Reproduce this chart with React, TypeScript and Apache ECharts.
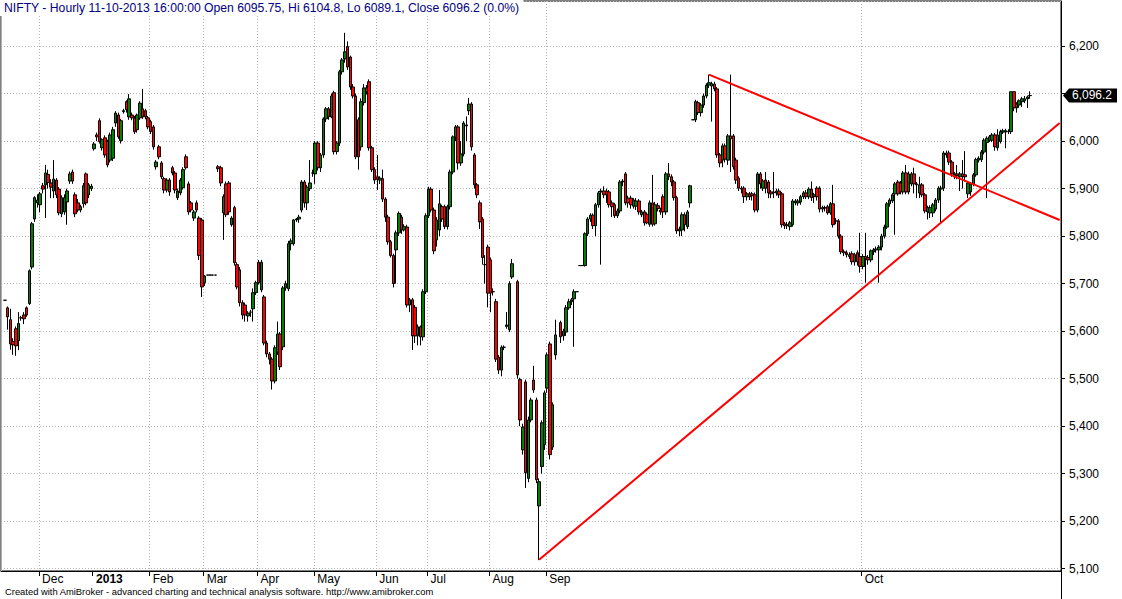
import React, { useEffect, useRef } from "react";
import * as echarts from "echarts";

type Bar = [number, number, number, number] | null; // [open, close, low, high]

const TITLE =
  "NIFTY - Hourly 11-10-2013 16:00:00 Open 6095.75, Hi 6104.8, Lo 6089.1, Close 6096.2 (0.0%)";
const FOOTER =
  "Created with AmiBroker - advanced charting and technical analysis software. http://www.amibroker.com";

const monthTickIndex = [14, 34, 55, 75, 95, 116, 139, 158, 181, 202, 319];
const monthTickLabel = ["Dec", "2013", "Feb", "Mar", "Apr", "May", "Jun", "Jul", "Aug", "Sep", "Oct"];
const yearIndex = 34;

const yMin = 5095;
const yMax = 6295;
const lastClose = 6096.2;

const supportLine: [number, number][] = [
  [199, 5118.5],
  [392, 6038],
];
const resistanceLine: [number, number][] = [
  [262, 6140],
  [392, 5834],
];

const ohlc: Bar[] = [
  // Nov 2012
  null,
  [5665, 5665, 5665, 5665],
  [5649, 5630, 5603, 5652],
  [5624, 5573, 5561, 5647],
  [5578, 5571, 5550, 5585],
  [5605, 5569, 5548, 5610],
  [5580, 5616, 5560, 5640],
  [5628, 5628, 5622, 5632],
  [5634, 5626, 5615, 5640],
  [5649, 5634, 5630, 5652],
  [5658, 5727, 5655, 5730],
  [5735, 5826, 5730, 5830],
  [5836, 5881, 5830, 5884],
  [5870, 5876, 5860, 5888],
  // Dec
  [5866, 5889, 5850, 5893],
  [5906, 5899, 5890, 5912],
  [5908, 5933, 5838, 5950],
  [5930, 5913, 5900, 5940],
  [5912, 5903, 5880, 5920],
  [5895, 5920, 5880, 5960],
  [5918, 5887, 5880, 5922],
  [5899, 5849, 5844, 5903],
  [5847, 5881, 5840, 5886],
  [5851, 5881, 5845, 5888],
  [5872, 5895, 5824, 5900],
  [5916, 5931, 5910, 5936],
  [5935, 5916, 5910, 5940],
  [5887, 5847, 5840, 5892],
  [5870, 5855, 5850, 5878],
  [5855, 5862, 5850, 5866],
  [5868, 5906, 5860, 5912],
  [5931, 5870, 5865, 5934],
  [5887, 5908, 5880, 5912],
  [5900, 5905, 5895, 5910],
  // Jan 2013
  [5984, 5994, 5980, 5998],
  [6013, 6009, 6000, 6018],
  [6043, 5999, 5995, 6048],
  [5986, 6003, 5980, 6006],
  [6007, 5971, 5965, 6012],
  [5999, 5950, 5945, 6003],
  [5960, 6013, 5955, 6018],
  [5964, 6024, 5958, 6030],
  [6038, 6059, 6030, 6063],
  [6055, 6009, 6005, 6060],
  [6001, 6043, 5995, 6047],
  [6062, 6064, 6058, 6068],
  [6083, 6066, 6060, 6086],
  [6051, 6089, 6045, 6099],
  [6055, 6049, 6044, 6060],
  [6049, 6020, 6015, 6053],
  [6024, 6055, 6018, 6058],
  [6049, 6080, 6045, 6084],
  [6068, 6051, 6047, 6110],
  [6064, 6051, 6046, 6068],
  [6049, 6030, 6025, 6053],
  // Feb
  [6041, 6020, 6015, 6045],
  [6030, 5988, 5982, 6034],
  [5946, 5956, 5940, 5960],
  [5988, 5967, 5962, 5992],
  [5954, 5925, 5920, 5958],
  [5921, 5897, 5890, 5925],
  [5897, 5918, 5892, 5922],
  [5918, 5893, 5885, 5922],
  [5944, 5933, 5928, 5948],
  [5933, 5897, 5890, 5937],
  [5881, 5895, 5876, 5900],
  [5891, 5918, 5886, 5922],
  [5902, 5940, 5898, 5945],
  [5967, 5944, 5940, 5972],
  [5910, 5851, 5845, 5915],
  [5870, 5855, 5850, 5874],
  [5838, 5851, 5832, 5855],
  [5870, 5855, 5850, 5875],
  [5838, 5759, 5750, 5842],
  [5834, 5693, 5672, 5838],
  // Mar
  [5702, 5716, 5695, 5718],
  [5718, 5718, 5718, 5718],
  [5718, 5718, 5718, 5718],
  [5718, 5718, 5718, 5718],
  [5718, 5718, 5718, 5718],
  [5946, 5942, 5935, 5950],
  [5944, 5912, 5905, 5948],
  [5849, 5883, 5792, 5888],
  [5910, 5845, 5840, 5915],
  [5912, 5851, 5845, 5916],
  [5824, 5838, 5820, 5842],
  [5860, 5744, 5738, 5864],
  [5740, 5693, 5688, 5745],
  [5729, 5660, 5652, 5735],
  [5660, 5634, 5625, 5665],
  [5655, 5634, 5620, 5660],
  [5632, 5638, 5620, 5642],
  [5640, 5640, 5630, 5645],
  [5647, 5681, 5620, 5690],
  [5681, 5702, 5676, 5706],
  // Apr
  [5745, 5702, 5698, 5750],
  [5687, 5745, 5682, 5750],
  [5672, 5575, 5570, 5676],
  [5575, 5552, 5545, 5580],
  [5552, 5541, 5530, 5556],
  [5541, 5495, 5477, 5545],
  [5495, 5565, 5490, 5570],
  [5556, 5594, 5550, 5620],
  [5594, 5525, 5518, 5598],
  [5567, 5691, 5560, 5695],
  [5691, 5700, 5685, 5706],
  [5689, 5784, 5684, 5790],
  [5784, 5790, 5770, 5795],
  [5784, 5834, 5780, 5836],
  [5834, 5836, 5830, 5838],
  [5836, 5840, 5828, 5845],
  [5855, 5914, 5850, 5918],
  [5914, 5870, 5860, 5918],
  [5870, 5903, 5855, 5908],
  [5900, 5912, 5895, 5960],
  [5933, 5933, 5925, 5940],
  // May
  [5931, 5996, 5910, 6000],
  [5996, 5944, 5938, 6000],
  [5944, 5971, 5935, 5975],
  [5971, 6047, 5965, 6050],
  [6047, 6068, 6040, 6072],
  [6068, 6051, 6045, 6072],
  [6051, 6095, 6048, 6100],
  [6102, 5978, 5972, 6106],
  [5978, 5996, 5972, 6000],
  [5996, 6146, 5990, 6150],
  [6146, 6171, 6140, 6175],
  [6173, 6188, 6165, 6228],
  [6199, 6156, 6150, 6210],
  [6177, 6114, 6108, 6180],
  [6114, 6095, 6090, 6120],
  [6095, 5967, 5962, 6100],
  [6045, 5967, 5940, 6050],
  [5988, 6083, 5980, 6090],
  [6081, 6112, 6075, 6120],
  [6112, 6104, 6098, 6118],
  [6125, 5986, 5980, 6130],
  [5986, 5940, 5935, 5990],
  [5940, 5918, 5910, 5945],
  // Jun
  [5925, 5919, 5897, 5971],
  [5918, 5922, 5910, 5926],
  [5921, 5878, 5872, 5940],
  [5878, 5840, 5830, 5882],
  [5840, 5788, 5782, 5845],
  [5788, 5759, 5755, 5792],
  [5759, 5700, 5692, 5763],
  [5771, 5807, 5700, 5812],
  [5807, 5848, 5800, 5852],
  [5840, 5813, 5805, 5845],
  [5813, 5820, 5810, 5825],
  [5819, 5655, 5650, 5824],
  [5655, 5666, 5640, 5670],
  [5666, 5590, 5560, 5670],
  [5650, 5590, 5575, 5655],
  [5590, 5609, 5570, 5614],
  [5609, 5588, 5570, 5612],
  [5588, 5683, 5580, 5688],
  [5683, 5843, 5678, 5848],
  // Jul
  [5843, 5899, 5838, 5904],
  [5899, 5855, 5850, 5903],
  [5855, 5769, 5762, 5860],
  [5792, 5834, 5778, 5840],
  [5813, 5868, 5800, 5897],
  [5862, 5836, 5830, 5866],
  [5862, 5820, 5815, 5866],
  [5820, 5862, 5814, 5866],
  [5862, 5935, 5856, 5940],
  [5935, 6009, 5930, 6012],
  [6009, 6030, 6000, 6034],
  [6030, 5954, 5940, 6034],
  [5954, 5973, 5948, 6000],
  [5973, 6038, 5968, 6042],
  [6032, 6034, 6000, 6052],
  [6064, 6078, 6055, 6091],
  [6078, 5988, 5980, 6082],
  [5971, 5908, 5900, 5975],
  [5908, 5887, 5880, 5912],
  [5870, 5830, 5815, 5875],
  [5836, 5755, 5740, 5840],
  [5740, 5740, 5700, 5760],
  [5777, 5680, 5650, 5782],
  // Aug
  [5750, 5680, 5640, 5755],
  [5683, 5683, 5675, 5690],
  [5662, 5541, 5535, 5668],
  [5545, 5518, 5510, 5550],
  [5518, 5566, 5505, 5570],
  [5566, 5566, 5560, 5570],
  [5610, 5613, 5605, 5640],
  [5603, 5700, 5598, 5705],
  [5714, 5742, 5710, 5752],
  null,
  [5704, 5508, 5500, 5708],
  [5498, 5413, 5400, 5502],
  [5350, 5398, 5340, 5405],
  [5493, 5302, 5270, 5498],
  [5290, 5413, 5282, 5420],
  [5413, 5455, 5408, 5460],
  [5497, 5476, 5470, 5527],
  [5455, 5287, 5280, 5460],
  [5232, 5283, 5118, 5290],
  [5315, 5407, 5300, 5412],
  [5361, 5470, 5350, 5475],
  // Sep (hourly)
  [5480, 5550, 5470, 5555],
  [5573, 5340, 5330, 5578],
  [5356, 5445, 5350, 5450],
  [5550, 5592, 5540, 5624],
  null,
  [5618, 5588, 5575, 5622],
  [5590, 5600, 5580, 5605],
  [5598, 5649, 5590, 5655],
  [5649, 5662, 5645, 5668],
  [5662, 5666, 5655, 5670],
  [5668, 5683, 5567, 5688],
  [5683, 5683, 5683, 5683],
  [5738, 5738, 5738, 5738],
  [5738, 5738, 5738, 5738],
  [5738, 5805, 5736, 5808],
  [5805, 5836, 5800, 5840],
  [5836, 5844, 5830, 5848],
  [5844, 5822, 5815, 5848],
  [5822, 5866, 5800, 5870],
  [5866, 5891, 5860, 5895],
  [5893, 5895, 5740, 5900],
  [5895, 5887, 5880, 5905],
  [5895, 5887, 5870, 5900],
  [5893, 5866, 5860, 5897],
  [5870, 5862, 5840, 5875],
  [5866, 5843, 5838, 5870],
  [5843, 5853, 5838, 5858],
  [5853, 5914, 5848, 5918],
  [5914, 5916, 5905, 5920],
  [5931, 5870, 5865, 5935],
  [5880, 5870, 5860, 5885],
  [5880, 5866, 5858, 5885],
  [5863, 5876, 5858, 5880],
  [5863, 5874, 5855, 5880],
  [5874, 5851, 5845, 5878],
  [5845, 5851, 5840, 5855],
  [5851, 5828, 5822, 5855],
  [5846, 5828, 5825, 5850],
  [5825, 5870, 5820, 5875],
  [5870, 5825, 5820, 5929],
  [5826, 5866, 5822, 5872],
  [5864, 5858, 5852, 5870],
  [5855, 5851, 5845, 5860],
  [5883, 5851, 5838, 5888],
  [5851, 5931, 5845, 5935],
  [5931, 5925, 5918, 5954],
  [5925, 5914, 5905, 5930],
  [5914, 5881, 5875, 5918],
  [5881, 5811, 5805, 5885],
  [5811, 5815, 5800, 5820],
  [5813, 5845, 5800, 5850],
  [5845, 5824, 5810, 5850],
  [5820, 5851, 5815, 5855],
  [5870, 5906, 5860, 5908],
  [6045, 6045, 6045, 6045],
  [6045, 6083, 6040, 6087],
  [6081, 6060, 6055, 6085],
  [6060, 6076, 6052, 6080],
  [6076, 6095, 6070, 6100],
  [6095, 6118, 6090, 6122],
  [6118, 6123, 6112, 6140],
  [6116, 6121, 6041, 6125],
  [6120, 6110, 6105, 6125],
  [6110, 5971, 5965, 6114],
  [5971, 5954, 5945, 5975],
  [5960, 5990, 5945, 5995],
  [5990, 5962, 5955, 5995],
  [5960, 6011, 5950, 6015],
  [6011, 6005, 5935, 6140],
  [6011, 5946, 5940, 6015],
  [5960, 5918, 5910, 5965],
  [5922, 5901, 5895, 5926],
  [5901, 5899, 5890, 5905],
  [5901, 5883, 5870, 5905],
  [5883, 5889, 5875, 5893],
  [5889, 5883, 5876, 5893],
  [5889, 5885, 5875, 5893],
  [5887, 5855, 5850, 5892],
  [5855, 5931, 5850, 5935],
  [5931, 5910, 5900, 5935],
  [5901, 5916, 5895, 5920],
  [5918, 5901, 5890, 5935],
  [5914, 5891, 5880, 5918],
  [5893, 5889, 5880, 5897],
  [5891, 5893, 5880, 5935],
  [5891, 5895, 5885, 5900],
  [5895, 5887, 5880, 5900],
  [5889, 5824, 5818, 5893],
  [5826, 5822, 5815, 5830],
  [5822, 5824, 5815, 5830],
  [5820, 5828, 5812, 5832],
  [5824, 5874, 5820, 5878],
  [5870, 5874, 5865, 5878],
  [5870, 5874, 5864, 5878],
  [5872, 5883, 5866, 5887],
  [5883, 5891, 5878, 5895],
  [5891, 5883, 5878, 5897],
  [5883, 5899, 5878, 5903],
  [5899, 5881, 5874, 5915],
  [5883, 5887, 5870, 5891],
  [5901, 5883, 5875, 5905],
  [5901, 5857, 5850, 5905],
  [5860, 5857, 5850, 5864],
  [5860, 5859, 5852, 5864],
  [5862, 5849, 5845, 5866],
  [5849, 5868, 5845, 5872],
  [5868, 5824, 5818, 5908],
  [5832, 5832, 5825, 5838],
  [5832, 5800, 5795, 5836],
  [5800, 5767, 5762, 5804],
  [5767, 5765, 5758, 5772],
  [5765, 5761, 5755, 5770],
  [5757, 5761, 5752, 5766],
  [5763, 5746, 5740, 5768],
  [5746, 5761, 5738, 5765],
  [5765, 5746, 5738, 5770],
  [5757, 5736, 5723, 5807],
  // Oct
  [5736, 5757, 5730, 5762],
  [5757, 5752, 5702, 5807],
  [5755, 5750, 5740, 5760],
  [5750, 5769, 5745, 5772],
  [5767, 5771, 5760, 5775],
  [5771, 5773, 5765, 5778],
  [5771, 5777, 5702, 5781],
  [5777, 5800, 5770, 5805],
  [5800, 5819, 5795, 5824],
  [5819, 5868, 5815, 5872],
  [5868, 5876, 5862, 5880],
  [5874, 5887, 5870, 5891],
  [5889, 5910, 5803, 5914],
  [5914, 5889, 5885, 5918],
  [5912, 5893, 5888, 5916],
  [5893, 5933, 5888, 5937],
  [5933, 5893, 5888, 5950],
  [5893, 5931, 5888, 5936],
  [5910, 5931, 5905, 5935],
  [5931, 5910, 5890, 5944],
  [5910, 5908, 5880, 5914],
  [5891, 5908, 5880, 5925],
  [5908, 5887, 5882, 5912],
  [5887, 5853, 5848, 5891],
  [5851, 5860, 5835, 5864],
  [5849, 5860, 5838, 5865],
  [5849, 5866, 5840, 5870],
  [5857, 5876, 5852, 5880],
  [5876, 5901, 5870, 5905],
  [5899, 5901, 5828, 5906],
  [5901, 5975, 5895, 5979],
  [5975, 5971, 5965, 5980],
  [5975, 5956, 5950, 5980],
  [5956, 5931, 5925, 5960],
  [5925, 5931, 5920, 5935],
  [5931, 5927, 5920, 5950],
  [5925, 5931, 5895, 5935],
  [5931, 5925, 5900, 5960],
  [5929, 5925, 5915, 5979],
  [5889, 5912, 5880, 5916],
  [5893, 5910, 5885, 5914],
  [5910, 5929, 5905, 5933],
  [5929, 5961, 5925, 5965],
  [5960, 5964, 5955, 5968],
  [5961, 5977, 5956, 5981],
  [5977, 6002, 5972, 6006],
  [5997, 6006, 5880, 6010],
  [6002, 6009, 5998, 6013],
  [6002, 6013, 5998, 6017],
  [6013, 5988, 5980, 6017],
  [5986, 6013, 5980, 6025],
  [5999, 6020, 5995, 6024],
  [6019, 6022, 6015, 6026],
  [6019, 6022, 5985, 6026],
  [6020, 6021, 6015, 6025],
  [6020, 6104, 6015, 6104],
  [6104, 6070, 6063, 6104],
  [6070, 6078, 6060, 6082],
  [6076, 6085, 6070, 6088],
  [6083, 6089, 6072, 6093],
  [6085, 6089, 6080, 6095],
  [6089, 6093, 6070, 6096],
  [6095.75, 6096.2, 6089.1, 6104.8],
  // empty space on the right
  null, null, null, null, null, null, null, null, null, null, null,
];

const FONT = '"Liberation Sans", Arial, Helvetica, sans-serif';
const GRID = { left: 1, right: 61, top: 1, bottom: 28 };

function fmtPrice(v: number, decimals = 0): string {
  const s = v.toFixed(decimals);
  const [intPart, dec] = s.split(".");
  const withComma = intPart.replace(/\B(?=(\d{3})+(?!\d))/g, ",");
  return dec ? withComma + "." + dec : withComma;
}

export default function App() {
  const ref = useRef<HTMLDivElement>(null);

  useEffect(() => {
    const el = ref.current;
    if (!el) return;
    const chart = echarts.init(el, null, { renderer: "svg" });

    const cats = ohlc.map((_, i) => String(i));
    const data = ohlc.map((b) => (b ? b : ["-", "-", "-", "-"]));
    const monthSet = new Set(monthTickIndex);
    const gridSet = new Set(monthTickIndex.filter((i) => i !== yearIndex));
    const labelOf = (i: number) => {
      const k = monthTickIndex.indexOf(i);
      if (k < 0) return "";
      return i === yearIndex ? `{yr|${monthTickLabel[k]}}` : monthTickLabel[k];
    };

    const gridLine = { color: "#b4b4b4", width: 1, type: [1, 2] as any };

    chart.setOption({
      animation: false,
      backgroundColor: "#ffffff",
      title: [
        {
          text: TITLE,
          left: 0,
          top: 0,
          padding: [2, 4, 2, 4],
          backgroundColor: "#ffffff",
          textStyle: { fontSize: 12.2, fontWeight: "normal", color: "#000080", fontFamily: FONT },
          z: 8,
        },
        {
          text: FOOTER,
          left: 5,
          top: 587,
          padding: 0,
          textStyle: { fontSize: 9.4, fontWeight: "normal", color: "#000000", fontFamily: FONT },
        },
      ],
      grid: { ...GRID, containLabel: false, show: true, borderColor: "#000", borderWidth: 1, backgroundColor: "transparent" },
      xAxis: [
        {
          type: "category",
          data: cats,
          boundaryGap: true,
          axisLine: { show: true, onZero: false, lineStyle: { color: "#000", width: 1 } },
          axisTick: {
            show: true,
            interval: (i: number) => monthSet.has(i),
            length: 5,
            lineStyle: { color: "#000", width: 1 },
          },
          axisLabel: {
            show: true,
            interval: (i: number) => monthSet.has(i),
            formatter: (_v: string, i: number) => labelOf(i),
            align: "left",
            padding: [0, 0, 0, 2],
            margin: 2,
            color: "#000",
            fontSize: 12,
            fontFamily: FONT,
            rich: { yr: { fontWeight: "bold", fontSize: 12, fontFamily: FONT, color: "#000" } },
          },
          splitLine: {
            show: true,
            interval: (i: number) => gridSet.has(i),
            lineStyle: gridLine,
          },
        },
        {
          type: "category",
          data: cats,
          boundaryGap: true,
          position: "bottom",
          axisLine: { show: false },
          axisTick: { show: false },
          axisLabel: { show: false },
          splitLine: {
            show: true,
            interval: (i: number) => i === yearIndex,
            lineStyle: { color: "#b0b0b0", width: 1, type: "solid" },
          },
        },
      ],
      yAxis: [
        {
          type: "value",
          position: "right",
          min: yMin,
          max: yMax,
          splitNumber: 12,
          axisLine: { show: true, lineStyle: { color: "#000", width: 1 } },
          axisTick: { show: true, length: 4, lineStyle: { color: "#000" } },
          axisLabel: {
            // the price marker box covers the tick label nearest to the last close
            formatter: (v: number) =>
              Math.round(v) % 100 === 0 && Math.abs(v - lastClose) > 20 ? fmtPrice(v) : "",
            showMinLabel: false,
            showMaxLabel: false,
            color: "#000",
            fontSize: 12,
            fontFamily: FONT,
            margin: 8,
          },
          splitLine: { show: true, lineStyle: gridLine },
        },
      ],
      series: [
        {
          type: "candlestick",
          xAxisIndex: 0,
          yAxisIndex: 0,
          data,
          barWidth: 3,
          itemStyle: {
            color: "#008000",
            color0: "#ff0000",
            borderColor: "#000000",
            borderColor0: "#000000",
            borderColorDoji: "#000000",
            borderWidth: 1,
          },
          silent: true,
          z: 3,
        },
        {
          type: "line",
          xAxisIndex: 0,
          yAxisIndex: 0,
          data: supportLine,
          symbol: "none",
          silent: true,
          lineStyle: { color: "#ff0000", width: 2 },
          z: 4,
        },
        {
          type: "line",
          xAxisIndex: 0,
          yAxisIndex: 0,
          data: resistanceLine,
          symbol: "none",
          silent: true,
          lineStyle: { color: "#ff0000", width: 2 },
          z: 4,
        },
      ],
    });

    const py = chart.convertToPixel({ yAxisIndex: 0 }, lastClose) as number;
    const ax = chart.getWidth() - GRID.right;
    const h = 7;
    chart.setOption({
      graphic: [
        {
          type: "line",
          shape: { x1: ax + 0.5, y1: chart.getHeight() - GRID.bottom, x2: ax + 0.5, y2: chart.getHeight() },
          style: { stroke: "#000", lineWidth: 1 },
          silent: true,
        },
        {
          type: "polygon",
          shape: {
            points: [
              [ax + 2, py],
              [ax + 8, py - h],
              [ax + 56, py - h],
              [ax + 56, py + h],
              [ax + 8, py + h],
            ],
          },
          style: { fill: "#000000" },
          silent: true,
          z: 10,
        },
        {
          type: "text",
          x: ax + 11,
          y: py,
          style: {
            text: fmtPrice(lastClose, 1),
            fill: "#ffffff",
            fontSize: 12,
            fontFamily: FONT,
            verticalAlign: "middle",
            align: "left",
          },
          silent: true,
          z: 11,
        },
      ],
    });

    return () => chart.dispose();
  }, []);

  return (
    <div
      ref={ref}
      style={{ position: "absolute", left: 0, top: 0, width: 1122, height: 599, background: "#fff" }}
    />
  );
}
